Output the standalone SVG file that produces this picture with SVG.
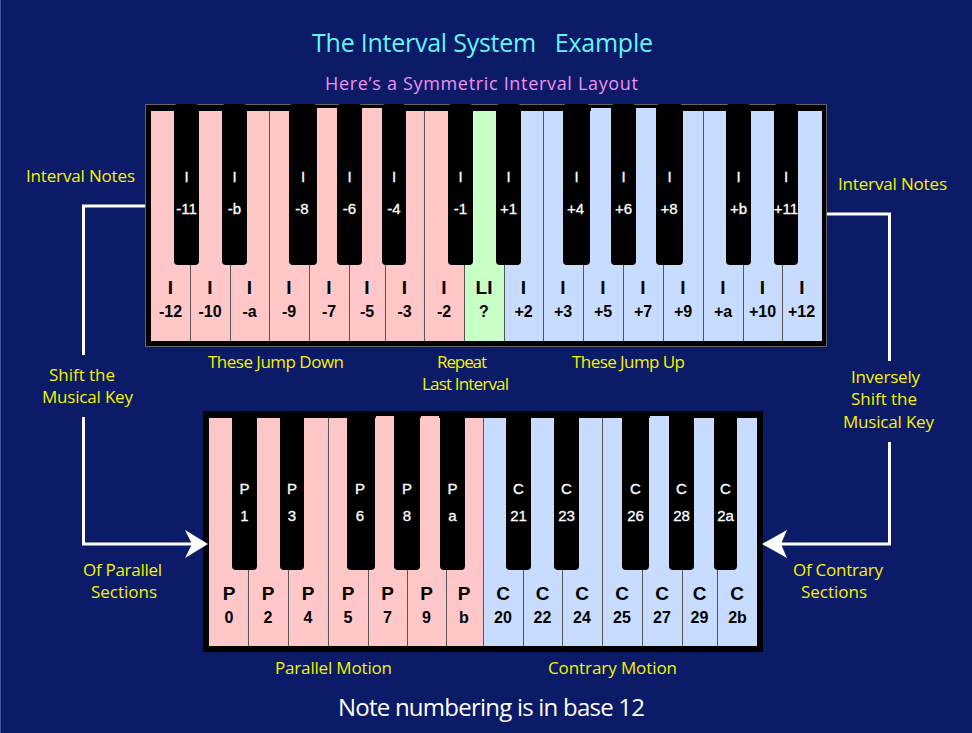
<svg xmlns="http://www.w3.org/2000/svg" width="972" height="733" viewBox="0 0 972 733">
<style>
.bg{fill:#0b1b68}
.pk{fill:#ffc7c7}
.bl{fill:#c7dcff}
.gr{fill:#c7ffc7}
.bk{fill:#000}
.sep{stroke:#555;stroke-width:1}
.wl{font-family:"Liberation Sans",Arial,sans-serif;font-weight:bold;font-size:19px;fill:#000;text-anchor:middle}
.wn{font-family:"Liberation Sans",Arial,sans-serif;font-weight:bold;font-size:16px;fill:#000;text-anchor:middle}
.bt{font-family:"Liberation Sans",Arial,sans-serif;font-size:15px;fill:#fff;text-anchor:middle;stroke:#fff;stroke-width:0.3}
.lab{font-family:"Open Sans","Noto Sans",sans-serif;font-size:17px;fill:#f6f200}
.conn{fill:none;stroke:#fff;stroke-width:3}
.arrow{fill:#fff}
</style>
<rect class="bg" x="0" y="0" width="972" height="733"/>
<line x1="0.5" y1="0" x2="0.5" y2="733" stroke="#45549a" stroke-width="1"/>

<g id="titles">
<text x="312" y="52" textLength="341" style="white-space:pre;font-family:'Open Sans','Noto Sans',sans-serif;font-size:25px;fill:#66f4f4">The Interval System   Example</text>
<text x="325" y="90" textLength="313" style="font-family:'Open Sans','Noto Sans',sans-serif;font-size:18px;fill:#f290f0">Here’s a Symmetric Interval Layout</text>
</g>

<g id="interval-keyboard">
<rect x="145.5" y="104.5" width="681" height="242" fill="#000" stroke="#666" stroke-width="1"/>
<rect class="pk" x="151" y="111" width="313" height="230"/>
<rect class="gr" x="464" y="111" width="40" height="230"/>
<rect class="bl" x="504" y="111" width="318" height="230"/>
<rect class="pk" x="317" y="108" width="20" height="5"/>
<rect class="pk" x="362" y="108" width="20" height="5"/>
<rect class="bl" x="591" y="108" width="20" height="5"/>
<rect class="bl" x="636" y="108" width="20" height="5"/>
<g class="sep">
<line x1="190.5" y1="265" x2="190.5" y2="341"/>
<line x1="230.5" y1="265" x2="230.5" y2="341"/>
<line x1="269.5" y1="111" x2="269.5" y2="341"/>
<line x1="309.5" y1="265" x2="309.5" y2="341"/>
<line x1="349.5" y1="265" x2="349.5" y2="341"/>
<line x1="385.5" y1="265" x2="385.5" y2="341"/>
<line x1="424.5" y1="111" x2="424.5" y2="341"/>
<line x1="464.5" y1="265" x2="464.5" y2="341"/>
<line x1="504.5" y1="265" x2="504.5" y2="341"/>
<line x1="543.5" y1="111" x2="543.5" y2="341"/>
<line x1="583.5" y1="265" x2="583.5" y2="341"/>
<line x1="623.5" y1="265" x2="623.5" y2="341"/>
<line x1="663.5" y1="265" x2="663.5" y2="341"/>
<line x1="703.5" y1="111" x2="703.5" y2="341"/>
<line x1="743.5" y1="265" x2="743.5" y2="341"/>
<line x1="782.5" y1="265" x2="782.5" y2="341"/>
</g>
<g class="bk">
<rect x="174" y="104" width="25" height="161" rx="4"/>
<rect x="222" y="104" width="25" height="161" rx="4"/>
<rect x="289" y="104" width="28" height="161" rx="4"/>
<rect x="337" y="104" width="25" height="161" rx="4"/>
<rect x="382" y="104" width="24" height="161" rx="4"/>
<rect x="448" y="104" width="25" height="161" rx="4"/>
<rect x="496" y="104" width="25" height="161" rx="4"/>
<rect x="563" y="104" width="27" height="161" rx="4"/>
<rect x="611" y="104" width="25" height="161" rx="4"/>
<rect x="656" y="104" width="27" height="161" rx="4"/>
<rect x="726" y="104" width="25" height="161" rx="4"/>
<rect x="774" y="104" width="24" height="161" rx="4"/>
</g>
<g class="bt">
<text x="186.5" y="182">I</text><text x="186.5" y="214">-11</text>
<text x="234.5" y="182">I</text><text x="234.5" y="214">-b</text>
<text x="303" y="182">I</text><text x="302" y="214">-8</text>
<text x="349.5" y="182">I</text><text x="349.5" y="214">-6</text>
<text x="394" y="182">I</text><text x="394" y="214">-4</text>
<text x="460.5" y="182">I</text><text x="460.5" y="214">-1</text>
<text x="508.5" y="182">I</text><text x="508.5" y="214">+1</text>
<text x="576.5" y="182">I</text><text x="575.5" y="214">+4</text>
<text x="623.5" y="182">I</text><text x="623.5" y="214">+6</text>
<text x="669.5" y="182">I</text><text x="669" y="214">+8</text>
<text x="738.5" y="182">I</text><text x="738.5" y="214">+b</text>
<text x="786" y="182">I</text><text x="786" y="214">+11</text>
</g>
<g class="wl">
<text x="170.5" y="294">I</text><text x="210" y="294">I</text><text x="249.5" y="294">I</text><text x="289" y="294">I</text>
<text x="329" y="294">I</text><text x="367" y="294">I</text><text x="404.5" y="294">I</text><text x="444" y="294">I</text>
<text x="484" y="294">LI</text>
<text x="523.5" y="294">I</text><text x="563" y="294">I</text><text x="603" y="294">I</text><text x="643" y="294">I</text>
<text x="683" y="294">I</text><text x="723" y="294">I</text><text x="762.5" y="294">I</text><text x="802" y="294">I</text>
</g>
<g class="wn">
<text x="170.5" y="317">-12</text><text x="210" y="317">-10</text><text x="249.5" y="317">-a</text><text x="289" y="317">-9</text>
<text x="329" y="317">-7</text><text x="367" y="317">-5</text><text x="404.5" y="317">-3</text><text x="444" y="317">-2</text>
<text x="484" y="317">?</text>
<text x="523.5" y="317">+2</text><text x="563" y="317">+3</text><text x="603" y="317">+5</text><text x="643" y="317">+7</text>
<text x="683" y="317">+9</text><text x="723" y="317">+a</text><text x="762.5" y="317">+10</text><text x="801.5" y="317">+12</text>
</g>
</g>

<g id="motion-keyboard">
<rect x="203" y="411" width="560" height="241" fill="#000"/>
<rect class="pk" x="209" y="418" width="274" height="228"/>
<rect class="bl" x="483" y="418" width="274" height="228"/>
<rect class="pk" x="376" y="416" width="18" height="4"/>
<rect class="pk" x="421" y="416" width="18" height="4"/>
<rect class="bl" x="650" y="416" width="19" height="4"/>
<g class="sep">
<line x1="248.5" y1="570" x2="248.5" y2="646"/>
<line x1="288.5" y1="570" x2="288.5" y2="646"/>
<line x1="328.5" y1="418" x2="328.5" y2="646"/>
<line x1="368.5" y1="570" x2="368.5" y2="646"/>
<line x1="407.5" y1="570" x2="407.5" y2="646"/>
<line x1="446.5" y1="570" x2="446.5" y2="646"/>
<line x1="483.5" y1="418" x2="483.5" y2="646"/>
<line x1="523.5" y1="570" x2="523.5" y2="646"/>
<line x1="562.5" y1="570" x2="562.5" y2="646"/>
<line x1="602.5" y1="418" x2="602.5" y2="646"/>
<line x1="642.5" y1="570" x2="642.5" y2="646"/>
<line x1="682.5" y1="570" x2="682.5" y2="646"/>
<line x1="717.5" y1="570" x2="717.5" y2="646"/>
</g>
<g class="bk">
<rect x="232" y="411" width="25" height="159" rx="4"/>
<rect x="280" y="411" width="24" height="159" rx="4"/>
<rect x="347" y="411" width="28" height="159" rx="4"/>
<rect x="394" y="411" width="26" height="159" rx="4"/>
<rect x="440" y="411" width="25" height="159" rx="4"/>
<rect x="506" y="411" width="25" height="159" rx="4"/>
<rect x="554" y="411" width="25" height="159" rx="4"/>
<rect x="622" y="411" width="27" height="159" rx="4"/>
<rect x="669" y="411" width="25" height="159" rx="4"/>
<rect x="714" y="411" width="23" height="159" rx="4"/>
</g>
<g class="bt">
<text x="244.5" y="494">P</text><text x="244.5" y="521">1</text>
<text x="292" y="494">P</text><text x="292" y="521">3</text>
<text x="360" y="494">P</text><text x="360" y="521">6</text>
<text x="407" y="494">P</text><text x="407" y="521">8</text>
<text x="452.5" y="494">P</text><text x="452.5" y="521">a</text>
<text x="518.5" y="494">C</text><text x="518.5" y="521">21</text>
<text x="566.5" y="494">C</text><text x="566.5" y="521">23</text>
<text x="635.5" y="494">C</text><text x="635.5" y="521">26</text>
<text x="681.5" y="494">C</text><text x="681.5" y="521">28</text>
<text x="725.5" y="494">C</text><text x="725.5" y="521">2a</text>
</g>
<g class="wl">
<text x="229" y="600">P</text><text x="268" y="600">P</text><text x="308" y="600">P</text><text x="348" y="600">P</text>
<text x="387.5" y="600">P</text><text x="426.5" y="600">P</text><text x="464" y="600">P</text>
<text x="503" y="600">C</text><text x="542.5" y="600">C</text><text x="582" y="600">C</text><text x="622" y="600">C</text>
<text x="662" y="600">C</text><text x="699.5" y="600">C</text><text x="737" y="600">C</text>
</g>
<g class="wn">
<text x="229" y="623">0</text><text x="268" y="623">2</text><text x="308" y="623">4</text><text x="348" y="623">5</text>
<text x="387.5" y="623">7</text><text x="426.5" y="623">9</text><text x="464" y="623">b</text>
<text x="503" y="623">20</text><text x="542.5" y="623">22</text><text x="582" y="623">24</text><text x="622" y="623">25</text>
<text x="662" y="623">27</text><text x="699.5" y="623">29</text><text x="737.5" y="623">2b</text>
</g>
</g>

<g id="connectors">
<path class="conn" d="M145,206 H83.5 V355"/>
<path class="conn" d="M83.5,417 V544 H193"/>
<path class="arrow" d="M208,544 L185,530 L192,544 L185,558 Z"/>
<path class="conn" d="M827,214 H889.5 V361"/>
<path class="conn" d="M889.5,442 V544 H779"/>
<path class="arrow" d="M762,544 L787,530 L781,544 L787,558 Z"/>
</g>

<g id="labels" class="lab">
<text x="26" y="182" textLength="109">Interval Notes</text>
<text x="838" y="190" textLength="109">Interval Notes</text>
<text x="49" y="381" textLength="66">Shift the</text>
<text x="42" y="403" textLength="91">Musical Key</text>
<text x="83" y="576" textLength="79">Of Parallel</text>
<text x="91" y="598" textLength="66">Sections</text>
<text x="851" y="383" textLength="69">Inversely</text>
<text x="851" y="405" textLength="66">Shift the</text>
<text x="843" y="428" textLength="91">Musical Key</text>
<text x="793" y="576" textLength="90">Of Contrary</text>
<text x="801" y="598" textLength="66">Sections</text>
<text x="208" y="368" textLength="136">These Jump Down</text>
<text x="437" y="368" textLength="50">Repeat</text>
<text x="422" y="390" textLength="87">Last Interval</text>
<text x="572" y="368" textLength="113">These Jump Up</text>
<text x="275" y="674" textLength="117">Parallel Motion</text>
<text x="548" y="674" textLength="129">Contrary Motion</text>
<text x="338" y="716" textLength="307" style="font-size:24px;fill:#fff">Note numbering is in base 12</text>
</g>
</svg>
